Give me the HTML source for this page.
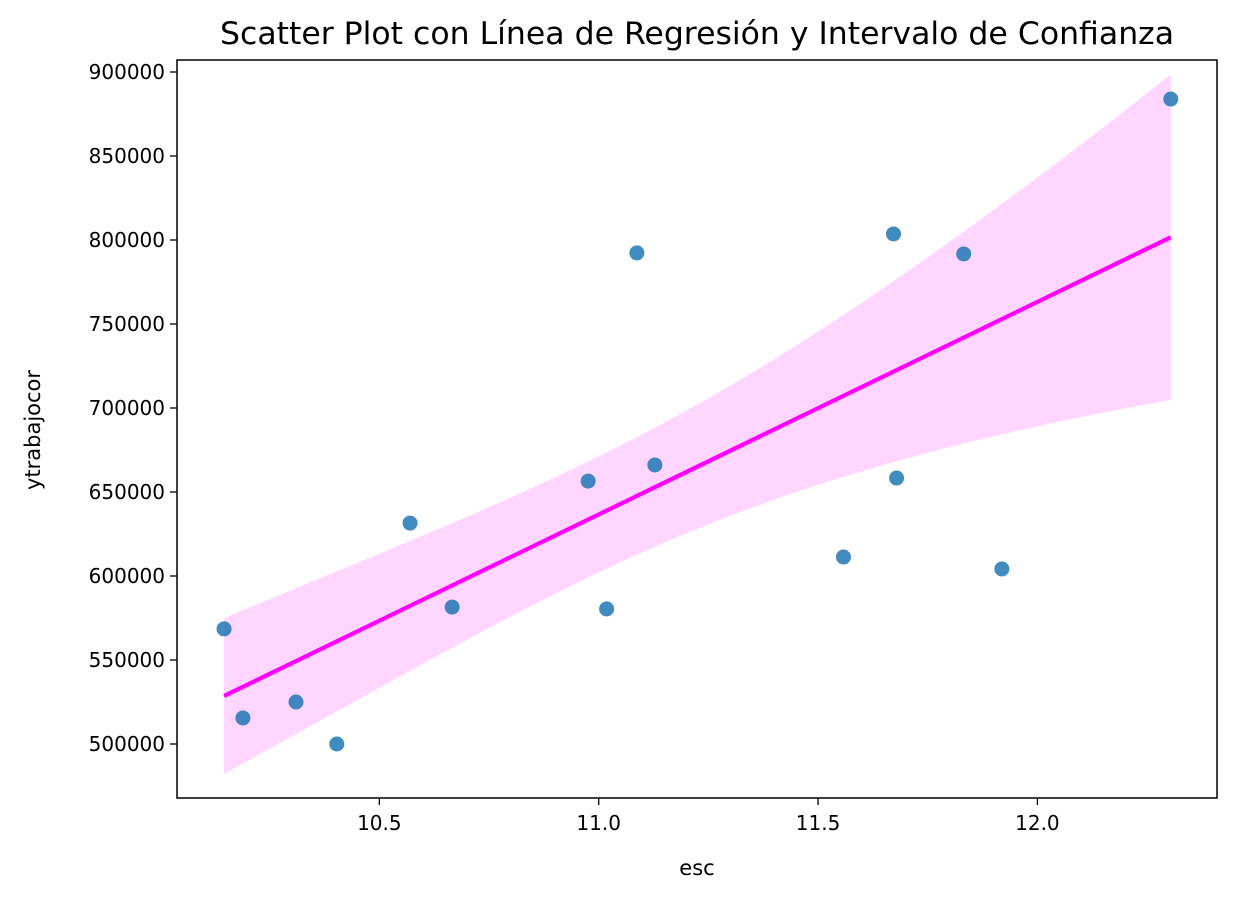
<!DOCTYPE html>
<html><head><meta charset="utf-8"><style>
body{margin:0;background:#fff;}
svg{display:block;font-family:"DejaVu Sans","Liberation Sans",sans-serif;}
</style></head><body>
<svg id="chart" width="1237" height="900">
<text x="697" y="44" font-size="31.5" text-anchor="middle">Scatter Plot con Línea de Regresión y Intervalo de Confianza</text>
<g id="band"></g>
<g id="points"></g>
<g id="line"></g>
<rect x="177" y="60" width="1040" height="738" fill="none" stroke="#000" stroke-width="1.5"/>
<g id="xticks"></g>
<g id="yticks"></g>
<text x="697" y="875" font-size="21" text-anchor="middle">esc</text>
<text x="0" y="0" font-size="21" text-anchor="middle" transform="translate(40,430) rotate(-90)">ytrabajocor</text>
</svg>
<script>
const xs=[10.146,10.189,10.310,10.403,10.570,10.666,10.976,11.018,11.087,11.128,11.558,11.672,11.679,11.832,11.919,12.304];
const ys=[568500,515500,525000,500000,631500,581500,656500,580400,792300,666100,611300,803600,658300,791700,604200,883900];
const xTicks=[10.5,11.0,11.5,12.0];
const xTickLabels=["10.5","11.0","11.5","12.0"];
const yTicks=[500000,550000,600000,650000,700000,750000,800000,850000,900000];
const yTickLabels=["500000","550000","600000","650000","700000","750000","800000","850000","900000"];
const NS="http://www.w3.org/2000/svg";
const X=v=>160+(v-10)*438.7;
const Y=v=>72+(900000-v)*0.00168;
function mk(t,a,p){const e=document.createElementNS(NS,t);for(const k in a)e.setAttribute(k,a[k]);p.appendChild(e);return e;}
const n=xs.length;
const mx=xs.reduce((a,b)=>a+b)/n,my=ys.reduce((a,b)=>a+b)/n;
let sxx=0,sxy=0;for(let i=0;i<n;i++){sxx+=(xs[i]-mx)**2;sxy+=(xs[i]-mx)*(ys[i]-my);}
const b=sxy/sxx,a=my-b*mx;
let sse=0;for(let i=0;i<n;i++)sse+=(ys[i]-a-b*xs[i])**2;
const s=Math.sqrt(sse/(n-2)),t=2.145;
const x0=Math.min(...xs),x1=Math.max(...xs);
let up=[],lo=[];
for(let k=0;k<=60;k++){const x=x0+(x1-x0)*k/60;const yh=a+b*x;
const f=0.63+0.47*(x-x0)/(x1-x0);
const h=f*t*s*Math.sqrt(1/n+(x-mx)**2/sxx);
up.push(X(x)+","+Y(yh+h));lo.unshift(X(x)+","+Y(yh-h));}
const band=mk("polygon",{points:up.concat(lo).join(" "),fill:"#ffd6ff"},document.getElementById("band"));


const pg=document.getElementById("points");
for(let i=0;i<n;i++){const c=mk("circle",{cx:X(xs[i]),cy:Y(ys[i]),r:7.5,fill:"#1f77b4","fill-opacity":0.85},pg);

}
const ln=mk("line",{x1:X(x0),y1:Y(a+b*x0),x2:X(x1),y2:Y(a+b*x1),stroke:"#ff00ff","stroke-width":4.2},document.getElementById("line"));


const xg=document.getElementById("xticks");
xTicks.forEach((v,i)=>{mk("line",{x1:X(v),x2:X(v),y1:798,y2:805,stroke:"#000","stroke-width":1.3},xg);
const tx=mk("text",{x:X(v),y:830,"font-size":20,"text-anchor":"middle"},xg);tx.textContent=xTickLabels[i];

});
const yg=document.getElementById("yticks");
yTicks.forEach((v,i)=>{mk("line",{x1:170,x2:177,y1:Y(v),y2:Y(v),stroke:"#000","stroke-width":1.3},yg);
const tx=mk("text",{x:165,y:Y(v)+7,"font-size":20,"text-anchor":"end"},yg);tx.textContent=yTickLabels[i];

});
</script>
</body></html>
